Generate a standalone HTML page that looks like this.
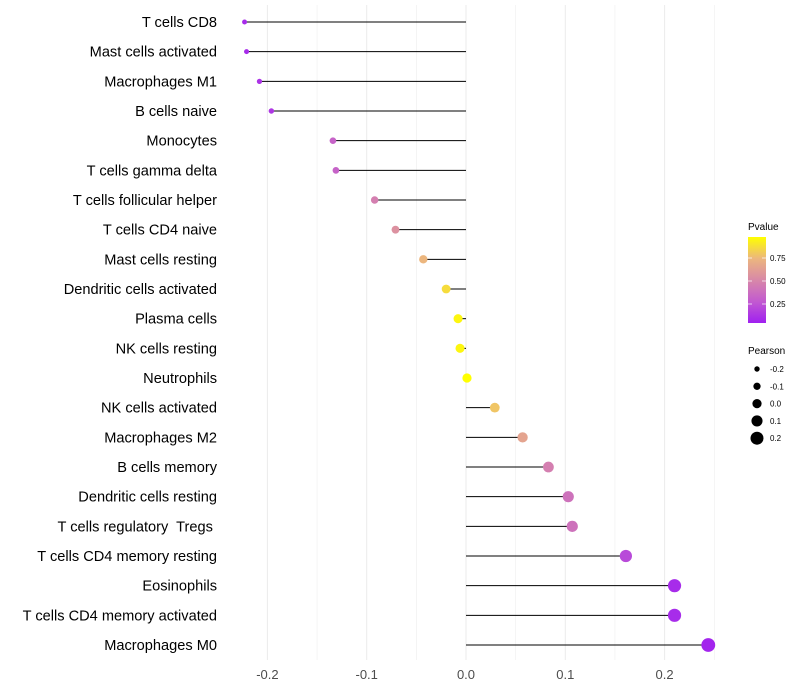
<!DOCTYPE html>
<html><head><meta charset="utf-8"><style>
body{margin:0;background:#fff;font-family:"Liberation Sans",sans-serif}
svg{display:block}
text{white-space:pre}
</style></head><body>
<svg id="chart" width="800" height="700" xmlns="http://www.w3.org/2000/svg">
<g id="grid"></g><g id="marks"></g><g id="ylabels"></g><g id="xticks"></g>
<g id="legend">
<text x="748" y="230" font-size="10" fill="#000">Pvalue</text>
<defs><linearGradient id="pg" x1="0" y1="1" x2="0" y2="0">
<stop offset="0" stop-color="#a020f0"/><stop offset="0.25" stop-color="#c25ad0"/><stop offset="0.5" stop-color="#d888a8"/><stop offset="0.75" stop-color="#ecb67e"/><stop offset="1" stop-color="#ffff00"/></linearGradient></defs>
<rect x="748" y="237" width="18" height="86" fill="url(#pg)"/>
<g stroke="#fff" stroke-width="1" opacity="0.7"><line x1="748" x2="752" y1="258" y2="258"/><line x1="762" x2="766" y1="258" y2="258"/><line x1="748" x2="752" y1="281" y2="281"/><line x1="762" x2="766" y1="281" y2="281"/><line x1="748" x2="752" y1="304" y2="304"/><line x1="762" x2="766" y1="304" y2="304"/></g>
<g font-size="8" fill="#000"><text x="770" y="261">0.75</text><text x="770" y="284">0.50</text><text x="770" y="307">0.25</text></g>
<text x="748" y="354" font-size="10" fill="#000">Pearson</text>
<g id="sizeleg"></g>
</g>
</svg>
<script>
const categories=["T cells CD8","Mast cells activated","Macrophages M1","B cells naive","Monocytes","T cells gamma delta","T cells follicular helper","T cells CD4 naive","Mast cells resting","Dendritic cells activated","Plasma cells","NK cells resting","Neutrophils","NK cells activated","Macrophages M2","B cells memory","Dendritic cells resting","T cells regulatory  Tregs ","T cells CD4 memory resting","Eosinophils","T cells CD4 memory activated","Macrophages M0"];
const pearson=[-0.223,-0.221,-0.208,-0.196,-0.134,-0.131,-0.092,-0.071,-0.043,-0.020,-0.008,-0.006,0.001,0.029,0.057,0.083,0.103,0.107,0.161,0.210,0.210,0.244];
const pvalues=[0.05,0.05,0.08,0.1,0.3,0.3,0.45,0.55,0.75,0.88,0.97,0.97,1.0,0.8,0.65,0.45,0.38,0.38,0.18,0.05,0.05,0.02];
const xTicks=[-0.2,-0.1,0.0,0.1,0.2];
const xTickLabels=["-0.2","-0.1","0.0","0.1","0.2"];
const sizeLegend=[-0.2,-0.1,0.0,0.1,0.2];
const NS="http://www.w3.org/2000/svg";
const xs=v=>466+v*993;
const ys=i=>22+i*29.667;
const rs=v=>4.6+v*9.5;
function col(p){const st=[[0,[160,32,240]],[0.25,[194,90,208]],[0.5,[216,136,168]],[0.75,[236,182,126]],[1,[255,255,0]]];
for(let k=1;k<st.length;k++){if(p<=st[k][0]){const a=st[k-1],b=st[k],t=(p-a[0])/(b[0]-a[0]);return "rgb("+a[1].map((c,j)=>Math.round(c+(b[1][j]-c)*t)).join(",")+")";}}return "rgb(255,255,0)";}
function mk(tag,at,parent){const e=document.createElementNS(NS,tag);for(const k in at)e.setAttribute(k,at[k]);document.getElementById(parent).appendChild(e);return e;}
for(let v=-0.2;v<=0.2501;v+=0.05){const x=xs(v);const major=Math.abs(Math.round(v*10)-v*10)<1e-6;
const g=mk("line",{x1:x,x2:x,y1:5,y2:660,stroke:"#ebebeb","stroke-width":major?1:0.5},"grid");

}
xTicks.forEach((v,i)=>{const t=mk("text",{x:xs(v),y:679,"font-size":13,fill:"#4d4d4d","text-anchor":"middle"},"xticks");t.textContent=xTickLabels[i];

});
categories.forEach((c,i)=>{const y=ys(i);
const l=mk("line",{x1:xs(0),x2:xs(pearson[i]),y1:y,y2:y,stroke:"#000","stroke-width":1},"marks");


const d=mk("circle",{cx:xs(pearson[i]),cy:y,r:rs(pearson[i]),fill:col(pvalues[i])},"marks");


const t=mk("text",{x:217,y:y+5,"font-size":14.6,fill:"#000","text-anchor":"end"},"ylabels");t.textContent=c;

});
sizeLegend.forEach((v,i)=>{const y=369+i*17.3;
const c=mk("circle",{cx:757,cy:y,r:rs(v),fill:"#000"},"sizeleg");


const t=mk("text",{x:770,y:y+3,"font-size":8,fill:"#000"},"sizeleg");t.textContent=v.toFixed(1);

});
</script>
</body></html>
